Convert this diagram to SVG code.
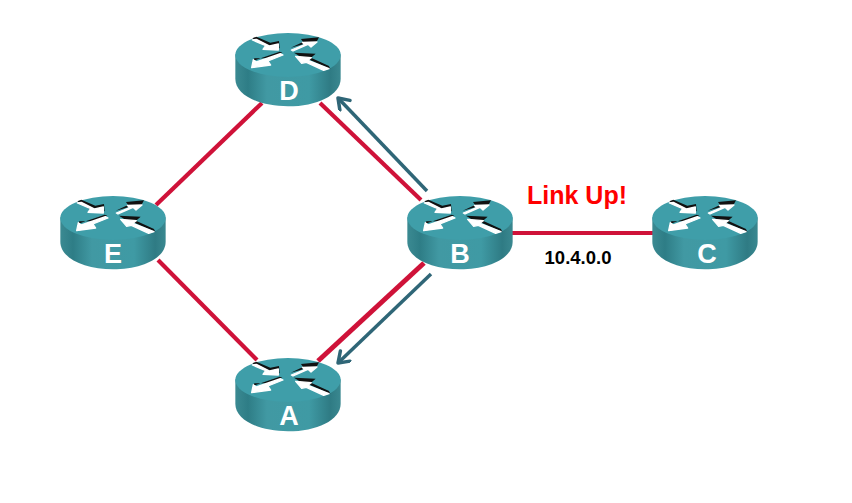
<svg xmlns="http://www.w3.org/2000/svg" width="852" height="503" viewBox="0 0 852 503">
<style>
.link{stroke:#cf1239;stroke-width:4.2;fill:none}
.wide{stroke-width:5}
.flow{stroke:#2f6677;stroke-width:3.5;fill:none;marker-end:url(#open)}
.lbl{font-family:"Liberation Sans",Arial,sans-serif;font-weight:bold;text-anchor:middle}
.name{font-size:27px;fill:#fff}
.w{fill:#fff;stroke:#fff;stroke-width:4;stroke-linejoin:round}
.k{fill:#111}
</style>
<defs>
<marker id="open" markerUnits="userSpaceOnUse" markerWidth="20" markerHeight="20" refX="12" refY="8" orient="auto">
<path d="M2 1L12 8L2 15" fill="none" stroke="#2f6677" stroke-width="3.5" stroke-linecap="round" stroke-linejoin="round"/>
</marker>
<linearGradient id="side" x1="0" x2="1" y1="0" y2="0">
<stop offset="0" stop-color="#3b8a92"/>
<stop offset=".12" stop-color="#2e7d86"/>
<stop offset=".3" stop-color="#4199a3"/>
<stop offset=".7" stop-color="#3f9aa4"/>
<stop offset=".9" stop-color="#2f7b84"/>
<stop offset="1" stop-color="#3a8890"/>
</linearGradient>
<g id="router" transform="scale(.3333)">
<path d="M22 112V185C22 235 95 268 180 268C265 268 338 235 338 185V112Z" fill="url(#side)"/>
<ellipse cx="180" cy="114" rx="158" ry="66" fill="#3f9ea9"/>
<g transform="translate(45 36)">
<path class="k" d="M28 28L40 23L82 41L108 36L110 58L84 50L70 54Z"/>
<path class="w" d="M28 33L40 31L80 51L106 45L106 63L60 61L68 50Z"/>
<path class="k" d="M143 56L180 39L174 30L228 25L220 40L180 46Z"/>
<path class="w" d="M145 63L185 47L178 40L222 39L204 54L195 46L150 66Z"/>
<path class="k" d="M118 71L76 88L34 88L28 98L40 92L110 68Z"/>
<path class="w" d="M120 78L75 96L83 108L26 116L31 92L40 99L112 74Z"/>
<path class="k" d="M153 71L218 74L204 86L258 111L262 120L200 92L170 82Z"/>
<path class="w" d="M158 82L205 86L195 94L258 119L242 124L190 100L176 103Z"/>
</g>
</g>
</defs>
<g id="connectors">
<line class="link" x1="262" y1="103" x2="156" y2="205"/>
<line class="link" x1="320" y1="103" x2="421" y2="200"/>
<line class="link" x1="158" y1="260" x2="257" y2="360"/>
<line class="link wide" x1="318" y1="361" x2="424" y2="263"/>
<line class="link" x1="510" y1="233" x2="654" y2="233"/>
<line class="flow" x1="427" y1="191" x2="338" y2="98"/>
<line class="flow" x1="431" y1="274" x2="338" y2="363"/>
</g>
<g id="node-D"><use href="#router" x="228" y="17"/><text class="lbl name" x="289" y="100">D</text></g>
<g id="node-E"><use href="#router" x="53" y="180"/><text class="lbl name" x="113" y="263">E</text></g>
<g id="node-A"><use href="#router" x="228" y="342"/><text class="lbl name" x="289" y="425">A</text></g>
<g id="node-B"><use href="#router" x="400" y="180"/><text class="lbl name" x="460" y="263">B</text></g>
<g id="node-C"><use href="#router" x="645" y="180"/><text class="lbl name" x="707" y="263">C</text></g>
<text class="lbl" x="577" y="204" font-size="25" fill="#ff0000">Link Up!</text>
<text class="lbl" x="578" y="264" font-size="18.5" fill="#000">10.4.0.0</text>
</svg>
